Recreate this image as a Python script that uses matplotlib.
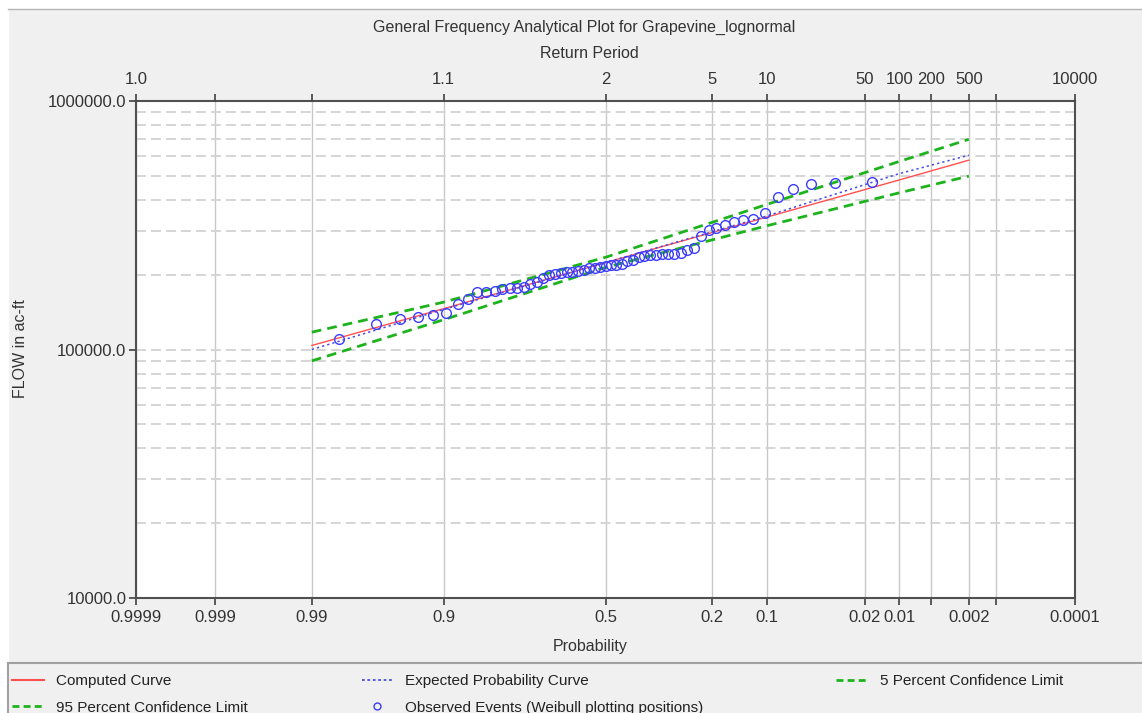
import math
from statistics import NormalDist

import matplotlib
matplotlib.use("Agg")
import matplotlib.pyplot as plt
import numpy as np
from matplotlib.lines import Line2D
from matplotlib.patches import Rectangle
from matplotlib.ticker import FixedLocator, FixedFormatter, LogLocator, NullFormatter

plt.rcParams['font.family'] = ['Liberation Sans', 'DejaVu Sans']

# ---- data ----
# observed annual peaks, ac-ft, largest first
observed = [472800, 468400, 462800, 440500, 409000, 354500, 336500, 331300, 326100, 316200,
            309500, 301900, 286300, 257100, 250700, 244500, 243100, 243100, 242700, 240900,
            240400, 238200, 234900, 229900, 226300, 221100, 219500, 218100, 216100, 214700,
            213500, 213100, 208200, 206300, 205000, 204400, 203100, 201900, 199700, 194200,
            186300, 182900, 179000, 177400, 176600, 174900, 171400, 170600, 170200, 160200,
            152200, 140300, 137500, 134600, 133000, 126900, 110700]

curve_prob = [0.99, 0.9, 0.5, 0.1, 0.01, 0.002]
computed = [103800, 146000, 223700, 341500, 481000, 578000]
expected = [100000, 145000, 223700, 345000, 510000, 605000]
conf_5 = [117400, 155100, 235000, 384000, 571000, 701000]
conf_95 = [90000, 131800, 214000, 315000, 427000, 498600]

prob_ticks = [0.9999, 0.999, 0.99, 0.9, 0.5, 0.2, 0.1, 0.02, 0.01, 0.005, 0.002, 0.001, 0.0001]
prob_labels = ['0.9999', '0.999', '0.99', '0.9', '0.5', '0.2', '0.1', '0.02', '0.01', '', '0.002', '', '0.0001']
rp_labels = ['1.0', '', '', '1.1', '2', '5', '10', '50', '100', '200', '500', '', '10000']

# weibull plotting positions m/(n+1)
n = len(observed)
obs_prob = np.arange(1, n + 1) / (n + 1)

_nd = NormalDist()


# normal probability scale (increasing in p, axis is inverted below)
def p_to_z(p):
    p = np.clip(np.asarray(p, dtype=float), 1e-9, 1 - 1e-9)
    return np.vectorize(_nd.inv_cdf, otypes=[float])(p)


def z_to_p(z):
    z = np.asarray(z, dtype=float)
    return np.vectorize(_nd.cdf, otypes=[float])(z)


W, H = 1142, 713
fig = plt.figure(figsize=(W / 100, H / 100), dpi=100, facecolor='#f0f0f0')


def fx(px):
    return px / W


def fy(py):
    return 1 - py / H


# white strips at top and left + separators
fig.patches.append(Rectangle((0, fy(9)), 1, 1 - fy(9), transform=fig.transFigure, color='white', zorder=0))
fig.patches.append(Rectangle((0, 0), fx(8), 1, transform=fig.transFigure, color='white', zorder=0))
fig.add_artist(Line2D([fx(8), 1], [fy(9), fy(9)], color='#b4b4b4', lw=1))
fig.add_artist(Line2D([fx(8), 1], [fy(663), fy(663)], color='#a0a0a0', lw=1.5))
fig.add_artist(Line2D([fx(8), fx(8)], [0, fy(663)], color='#a0a0a0', lw=1.5))

L, R, T, B = 136, 1075, 101, 598
ax = fig.add_axes([fx(L), fy(B), fx(R) - fx(L), fy(T) - fy(B)])
ax.set_facecolor('white')
ax.set_xscale('function', functions=(p_to_z, z_to_p))
ax.set_yscale('log')
ax.set_xlim(0.9999, 0.0001)
ax.set_ylim(1e4, 1e6)

green = '#1db31d'
ax.plot(curve_prob, computed, color='#ff5050', lw=1.0, zorder=3)
ax.plot(curve_prob, expected, color='#4b4be6', lw=1.1, ls=(0, (1.5, 2)), zorder=3)
ax.plot(curve_prob, conf_5, color=green, lw=2.0, ls=(0, (3.5, 2.2)), zorder=3)
ax.plot(curve_prob, conf_95, color=green, lw=2.0, ls=(0, (3.5, 2.2)), zorder=3)
ax.plot(obs_prob, observed, ls='none', marker='o', ms=7, mfc='none', mec='#3c3cff', mew=1.0, zorder=4)

# ticks / grid
ax.xaxis.set_major_locator(FixedLocator(prob_ticks))
ax.xaxis.set_major_formatter(FixedFormatter(prob_labels))
ax.xaxis.set_minor_locator(FixedLocator([]))
ax.yaxis.set_major_locator(FixedLocator([1e4, 1e5, 1e6]))
ax.yaxis.set_major_formatter(FixedFormatter(['10000.0', '100000.0', '1000000.0']))
ax.yaxis.set_minor_locator(LogLocator(base=10, subs=np.arange(2, 10)))
ax.yaxis.set_minor_formatter(NullFormatter())

ax.grid(axis='x', which='major', color='#c8c8c8', lw=1.0, ls='-')
ax.grid(axis='y', which='both', color='#d2d2d2', lw=1.3, ls=(0, (5.5, 2.8)))
ax.set_axisbelow(True)

ax.tick_params(axis='both', which='major', direction='out', length=5, width=1.2, color='#404040',
               labelcolor='#333333', labelsize=12)
ax.tick_params(axis='x', pad=4)
ax.tick_params(axis='y', pad=2)
ax.tick_params(axis='y', which='minor', length=0)
for s in ax.spines.values():
    s.set_color('#505050')
    s.set_linewidth(1.5)

# top axis: return period
ax2 = ax.twiny()
ax2.set_xscale('function', functions=(p_to_z, z_to_p))
ax2.set_xlim(0.9999, 0.0001)
ax2.xaxis.set_major_locator(FixedLocator(prob_ticks))
ax2.xaxis.set_major_formatter(FixedFormatter(rp_labels))
ax2.xaxis.set_minor_locator(FixedLocator([]))
ax2.tick_params(axis='x', direction='out', length=5, width=1.2, color='#404040',
                labelcolor='#333333', labelsize=12, pad=5)
for s in ax2.spines.values():
    s.set_visible(False)

# text
tc = '#333333'
fig.text(fx(584), fy(27), 'General Frequency Analytical Plot for Grapevine_lognormal',
         ha='center', va='center', fontsize=11.5, color=tc)
fig.text(fx(589), fy(53), 'Return Period', ha='center', va='center', fontsize=11.5, color=tc)
fig.text(fx(590), fy(647), 'Probability', ha='center', va='center', fontsize=11.5, color=tc)
fig.text(fx(21), fy(349), 'FLOW in ac-ft', ha='center', va='center', rotation=90, fontsize=11.5, color=tc)

# legend, three columns placed by hand
h_comp = Line2D([], [], color='#ff5050', lw=1.5)
h_exp = Line2D([], [], color='#4b4be6', lw=1.3, ls=(0, (1.5, 1.5)))
h_c5 = Line2D([], [], color=green, lw=2.0, ls=(0, (2.5, 1.5)))
h_c95 = Line2D([], [], color=green, lw=2.0, ls=(0, (2.5, 1.5)))
h_obs = Line2D([], [], ls='none', marker='o', ms=5, mfc='none', mec='#3c3cff', mew=1.0)

leg_kw = dict(frameon=False, loc='upper left', fontsize=11, borderpad=0, borderaxespad=0,
              handletextpad=0.8, labelspacing=0.82, labelcolor='#222222')
fig.legend([h_comp, h_c95], ['Computed Curve', '95 Percent Confidence Limit'],
           bbox_to_anchor=(fx(12), fy(674)), handlelength=2.1, **leg_kw)
fig.legend([h_exp, h_obs], ['Expected Probability Curve', 'Observed Events (Weibull plotting positions)'],
           bbox_to_anchor=(fx(362), fy(674)), handlelength=2.0, **leg_kw)
fig.legend([h_c5], ['5 Percent Confidence Limit'],
           bbox_to_anchor=(fx(836), fy(674)), handlelength=2.1, **leg_kw)

fig.savefig('out.png', dpi=100, facecolor=fig.get_facecolor())
